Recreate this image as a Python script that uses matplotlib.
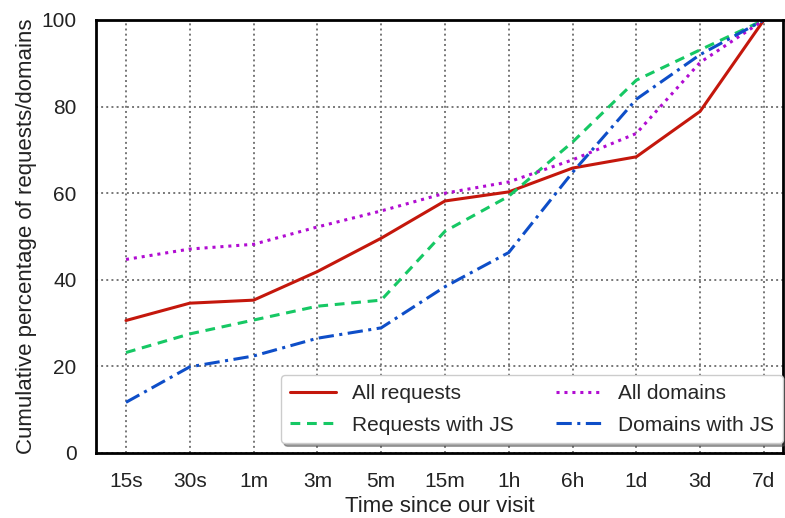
import matplotlib
matplotlib.use("Agg")
import matplotlib.pyplot as plt
import seaborn as sns

sns.set_style("white")
plt.rcParams['font.family'] = ['Liberation Sans', 'DejaVu Sans']

# time buckets since the crawl
labels = ["15s", "30s", "1m", "3m", "5m", "15m", "1h", "6h", "1d", "3d", "7d"]

all_requests = [30.6, 34.6, 35.3, 41.9, 49.6, 58.2, 60.3, 65.8, 68.4, 78.9, 100]
requests_js = [23.2, 27.5, 30.7, 33.9, 35.3, 51.2, 59.3, 71.8, 86.1, 93.1, 100]
all_domains = [44.7, 47.1, 48.2, 52.2, 55.9, 60.0, 62.6, 67.7, 73.8, 90.2, 100]
domains_js = [11.7, 19.9, 22.4, 26.5, 28.9, 38.4, 46.3, 64.8, 81.7, 92.0, 100]

fig = plt.figure(figsize=(7.85, 5.18), dpi=100)
ax = fig.add_axes([0.1223, 0.1255, 0.8752, 0.8359])

x = range(len(labels))
ax.plot(x, all_requests, color="#c4170c", lw=2.2, ls="-", label="All requests")
ax.plot(x, requests_js, color="#16c864", lw=2.2, ls=(0, (3.2, 2.2)), label="Requests with JS")
ax.plot(x, all_domains, color="#b10cd2", lw=2.2, ls=(0, (1, 1.6)), label="All domains")
ax.plot(x, domains_js, color="#0e4ec8", lw=2.2, ls=(0, (5, 1.8, 1, 1.8)), label="Domains with JS")

ax.set_xlim(-0.47, 10.3)
ax.set_ylim(0, 100)
ax.set_xticks(list(x))
ax.set_xticklabels(labels)
ax.set_yticks([0, 20, 40, 60, 80, 100])
ax.tick_params(labelsize=15, colors="#222222", length=0, pad=14)
ax.set_xlabel("Time since our visit", fontsize=16, color="#222222", labelpad=3)
ax.set_ylabel("Cumulative percentage of requests/domains", fontsize=16, color="#222222", labelpad=3)

ax.grid(True, ls=":", color="#777777", lw=1.4)
for sp in ax.spines.values():
    sp.set_color("black")
    sp.set_linewidth(2)

leg = ax.legend(loc="lower right", bbox_to_anchor=(1.0, 0.022), ncol=2, fontsize=15,
                frameon=True, shadow=True, fancybox=True, borderaxespad=0,
                handlelength=2.2, columnspacing=2.0, labelspacing=0.62, borderpad=0.42)
leg.get_frame().set_edgecolor("#cccccc")
leg.get_frame().set_facecolor("white")
leg.get_frame().set_alpha(1)

fig.savefig("out.png", dpi=100)
